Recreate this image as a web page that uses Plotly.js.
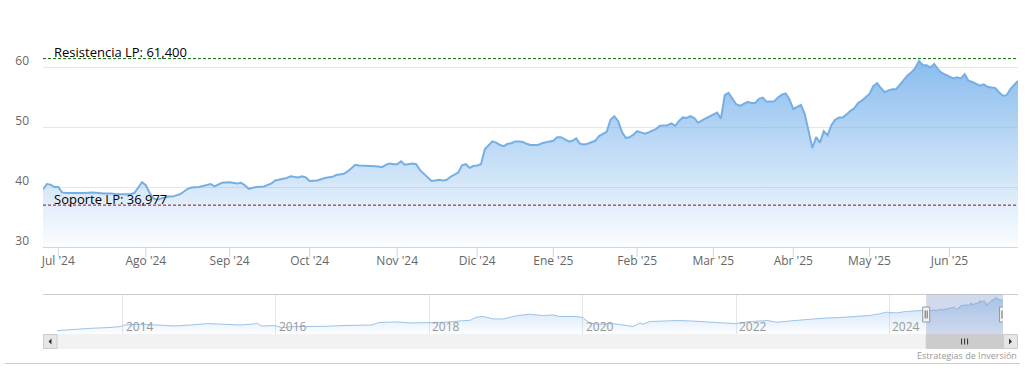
<!DOCTYPE html>
<html><head><meta charset="utf-8">
<script src="https://cdn.plot.ly/plotly-3.0.1.min.js"></script>
<style>html,body{margin:0;padding:0;background:#fff;}#chart{width:1034px;height:369px;}</style>
</head><body><div id="chart"></div>
<script>
// ---- Data ----
const dates = ['2024-06-25','2024-06-26','2024-06-27','2024-06-28','2024-07-01','2024-07-02','2024-07-03','2024-07-05','2024-07-08','2024-07-10','2024-07-12','2024-07-15','2024-07-17','2024-07-19','2024-07-22','2024-07-24','2024-07-26','2024-07-29','2024-07-30','2024-07-31',
'2024-08-01','2024-08-02','2024-08-05','2024-08-06','2024-08-07','2024-08-09','2024-08-12','2024-08-14','2024-08-16','2024-08-19','2024-08-21','2024-08-23','2024-08-26','2024-08-27','2024-08-29',
'2024-09-02','2024-09-04','2024-09-05','2024-09-06','2024-09-09','2024-09-11','2024-09-13','2024-09-16','2024-09-17','2024-09-18','2024-09-20','2024-09-23','2024-09-24','2024-09-26','2024-09-27','2024-09-30',
'2024-10-01','2024-10-03','2024-10-07','2024-10-09','2024-10-10','2024-10-14','2024-10-15','2024-10-16','2024-10-17','2024-10-18','2024-10-21','2024-10-23','2024-10-25','2024-10-28','2024-10-29','2024-10-30','2024-10-31',
'2024-11-01','2024-11-04','2024-11-05','2024-11-07','2024-11-08','2024-11-11','2024-11-12','2024-11-13','2024-11-14','2024-11-15','2024-11-18','2024-11-19','2024-11-20','2024-11-21','2024-11-22','2024-11-25','2024-11-26','2024-11-27','2024-11-28','2024-11-29',
'2024-12-02','2024-12-03','2024-12-04','2024-12-05','2024-12-06','2024-12-09','2024-12-10','2024-12-11','2024-12-12','2024-12-13','2024-12-16','2024-12-17','2024-12-18','2024-12-19','2024-12-20','2024-12-23','2024-12-24','2024-12-27','2024-12-30','2024-12-31',
'2025-01-02','2025-01-03','2025-01-06','2025-01-07','2025-01-08','2025-01-09','2025-01-10','2025-01-13','2025-01-14','2025-01-15','2025-01-16','2025-01-17','2025-01-20','2025-01-21','2025-01-22','2025-01-23','2025-01-24','2025-01-27','2025-01-28','2025-01-29','2025-01-30','2025-01-31',
'2025-02-03','2025-02-04','2025-02-05','2025-02-06','2025-02-07','2025-02-10','2025-02-11','2025-02-12','2025-02-13','2025-02-14','2025-02-17','2025-02-18','2025-02-19','2025-02-20','2025-02-21','2025-02-24','2025-02-25','2025-02-26','2025-02-27','2025-02-28',
'2025-03-03','2025-03-04','2025-03-05','2025-03-06','2025-03-07','2025-03-10','2025-03-11','2025-03-12','2025-03-13','2025-03-14','2025-03-17','2025-03-18','2025-03-19','2025-03-20','2025-03-21','2025-03-24','2025-03-25','2025-03-26','2025-03-27','2025-03-28','2025-03-31',
'2025-04-01','2025-04-02','2025-04-03','2025-04-04','2025-04-07','2025-04-08','2025-04-09','2025-04-10','2025-04-11','2025-04-14','2025-04-15','2025-04-16','2025-04-17','2025-04-22','2025-04-23','2025-04-24','2025-04-25','2025-04-28','2025-04-29','2025-04-30',
'2025-05-02','2025-05-05','2025-05-06','2025-05-07','2025-05-08','2025-05-09','2025-05-12','2025-05-13','2025-05-14','2025-05-15','2025-05-16','2025-05-19','2025-05-20','2025-05-21','2025-05-22','2025-05-23','2025-05-26','2025-05-27','2025-05-28','2025-05-29','2025-05-30',
'2025-06-02','2025-06-03','2025-06-04','2025-06-05','2025-06-06','2025-06-09','2025-06-10','2025-06-11','2025-06-12','2025-06-13','2025-06-16','2025-06-17','2025-06-18','2025-06-19','2025-06-20','2025-06-23','2025-06-24','2025-06-25','2025-06-26'];

const prices = [39.6,40.5,40.4,40.0,40.0,39.1,39.0,39.0,38.9,39.0,39.1,39.0,38.9,38.9,38.8,38.8,38.8,39.0,39.9,40.8,
40.3,39.0,38.1,37.9,38.1,38.4,38.4,38.8,39.7,39.9,40.0,40.3,40.5,40.1,40.7,
40.8,40.6,40.7,40.3,39.7,40.0,40.1,40.3,40.6,41.1,41.3,41.5,41.8,41.6,41.8,41.6,
41.0,41.1,41.5,41.7,42.0,42.2,42.6,43.2,43.7,43.6,43.6,43.5,43.4,43.3,43.7,43.9,43.8,
43.8,44.3,43.7,43.9,43.8,42.8,42.2,41.6,41.0,41.1,41.2,41.1,41.2,41.7,42.1,42.4,43.6,43.8,43.2,43.5,
43.6,43.8,46.3,46.9,47.6,47.4,47.0,46.8,47.2,47.3,47.6,47.6,47.5,47.2,47.0,47.0,47.0,47.3,47.5,47.6,
47.7,48.3,48.3,48.0,47.6,47.7,48.1,47.2,47.1,47.2,47.5,47.7,48.5,48.9,49.2,51.2,51.8,51.0,49.2,48.2,48.3,48.7,
49.3,49.1,48.9,49.1,49.4,49.7,50.2,50.3,50.3,50.6,50.2,51.0,51.6,51.5,51.8,51.5,50.7,51.1,51.4,51.7,
52.0,52.4,51.4,55.3,55.7,54.8,53.8,53.5,53.8,54.2,54.0,54.0,54.7,54.9,54.2,54.3,54.3,54.9,55.4,55.6,54.6,
53.0,53.4,53.7,52.2,49.4,46.5,48.3,47.4,49.3,48.6,50.3,51.2,51.6,51.6,52.1,52.7,53.1,54.0,54.4,54.9,
55.5,56.8,57.3,56.5,55.8,56.1,56.3,56.3,57.1,57.9,58.6,59.1,59.8,61.0,60.3,60.3,59.9,60.5,59.6,59.0,58.7,
58.3,58.1,58.3,58.1,58.8,57.7,57.5,57.2,56.9,57.1,56.7,56.6,56.5,55.8,55.2,55.3,56.3,57.0,57.7];

// Long history shown only in the navigator (before the main window)
const histDates = ['2013-02-22','2013-05-10','2013-08-01','2013-10-18','2013-12-20','2014-01-10','2014-03-28','2014-06-18','2014-09-01','2014-11-20',
'2015-02-10','2015-04-28','2015-07-15','2015-10-07','2015-10-22','2015-12-24','2016-02-01','2016-03-18','2016-06-07','2016-08-22','2016-11-10',
'2017-02-01','2017-04-03','2017-05-05','2017-07-20','2017-10-09','2017-12-28','2018-03-12','2018-05-28','2018-07-16','2018-08-10','2018-09-17','2018-11-02','2018-12-20',
'2019-02-25','2019-04-26','2019-06-24','2019-08-12','2019-09-13','2019-12-02','2020-01-02','2020-02-04','2020-03-20','2020-05-22','2020-07-30','2020-08-28','2020-10-01','2020-10-15','2020-11-17',
'2021-01-05','2021-03-30','2021-05-31','2021-08-18','2021-11-02','2021-12-28','2022-03-10','2022-05-30','2022-07-15','2022-09-16','2022-12-05',
'2023-02-20','2023-05-08','2023-07-27','2023-09-27','2023-11-14','2023-12-18','2024-02-05','2024-03-22','2024-05-08','2024-06-14'];
const histPrices = [5.1,7.3,9.0,10.2,11.9,14.6,15.8,14.6,12.9,14.6,
17.0,15.8,14.6,17.0,12.9,13.6,10.2,11.9,11.9,12.4,13.6,
14.6,14.6,18.7,19.7,18.0,18.0,19.2,21.4,22.6,27.6,28.8,24.8,24.8,
30.5,32.7,30.5,31.5,28.8,28.8,27.1,17.5,15.8,17.0,13.6,11.9,18.0,15.8,20.4,
21.4,22.1,21.4,19.2,18.0,17.0,20.4,22.1,19.2,21.4,24.3,
26.0,27.1,28.8,30.5,33.2,36.1,34.9,37.3,38.3,39.0];

const monthTicks = ['2024-07-01','2024-08-01','2024-09-02','2024-10-01','2024-11-01','2024-12-02','2025-01-02','2025-02-03','2025-03-03','2025-04-01','2025-05-02','2025-06-02'];
const monthLabels = ["Jul '24","Ago '24","Sep '24","Oct '24","Nov '24","Dic '24","Ene '25","Feb '25","Mar '25","Abr '25","May '25","Jun '25"];
const holidays = ['2024-12-25','2024-12-26','2025-01-01','2025-04-18','2025-04-21','2025-05-01'];
const yearTicks = ['2014-01-01','2016-01-01','2018-01-01','2020-01-01','2022-01-01','2024-01-01'];
const yearLabels = ['2014','2016','2018','2020','2022','2024'];
const yTicks = [30,40,50,60,70];
const yTickText = ['30','40','50','60',''];
const resistance = 61.4, support = 36.977;
const resistanceLabel = 'Resistencia LP: 61,400';
const supportLabel = 'Soporte LP: 36,977';
const credit = 'Estrategias de Inversión';

// ---- Layout helpers (pixel -> paper) ----
const W = 1034, H = 369;
const px = v => v / W;
const py = v => 1 - v / H;
const FONT = 'Open Sans, Liberation Sans, sans-serif';

const navX = histDates.concat(dates);
const navY = histPrices.concat(prices);
const nMin = Math.min(...navY), nMax = Math.max(...navY), nSpan = nMax - nMin;
const first = dates[0], last = dates[dates.length - 1];
const mid = new Date((Date.parse(first) + Date.parse(last)) / 2).toISOString().slice(0, 10);

const traces = [
  {
    x: dates, y: prices, type: 'scatter', mode: 'lines',
    line: {color: '#76aee6', width: 2},
    fill: 'tozeroy',
    fillgradient: {type: 'vertical', start: 30, stop: 63,
      colorscale: [[0, 'rgba(124,181,236,0.03)'], [1, 'rgba(124,181,236,0.95)']]},
    hoverinfo: 'skip', xaxis: 'x', yaxis: 'y'
  },
  {
    x: navX, y: navY, type: 'scatter', mode: 'lines',
    line: {color: '#9cc3ea', width: 1},
    fill: 'tozeroy',
    fillgradient: {type: 'vertical', start: nMin - 0.1 * nSpan, stop: nMax,
      colorscale: [[0, 'rgba(124,181,236,0.02)'], [1, 'rgba(124,181,236,0.45)']]},
    hoverinfo: 'skip', xaxis: 'x2', yaxis: 'y2'
  }
];

const shapes = [
  // support / resistance
  {type: 'line', xref: 'paper', yref: 'y', x0: px(43), x1: px(1018), y0: resistance, y1: resistance,
   line: {color: '#0b6b0b', width: 1, dash: '3px,2px'}},
  {type: 'line', xref: 'paper', yref: 'y', x0: px(43), x1: px(1018), y0: support, y1: support,
   line: {color: '#8b1030', width: 1, dash: '3px,2px'}},
  // navigator outline top
  {type: 'line', xref: 'paper', yref: 'paper', x0: px(43), x1: px(1018), y0: py(294.5), y1: py(294.5),
   line: {color: '#cccccc', width: 1}},
  // navigator mask (selected range)
  {type: 'rect', xref: 'x2', yref: 'paper', x0: first, x1: last, y0: py(334), y1: py(294.5),
   fillcolor: 'rgba(102,133,194,0.3)', line: {width: 0}},
  // scrollbar track
  {type: 'rect', xref: 'paper', yref: 'paper', x0: px(43), x1: px(1018), y0: py(349), y1: py(334),
   fillcolor: '#f2f2f2', line: {width: 0}},
  // scrollbar thumb
  {type: 'rect', xref: 'x2', yref: 'paper', x0: first, x1: last, y0: py(348.5), y1: py(334.5),
   fillcolor: '#cccccc', line: {color: '#cccccc', width: 1}},
  // buttons
  {type: 'rect', xref: 'paper', yref: 'paper', x0: px(43.5), x1: px(57), y0: py(348.5), y1: py(334.5),
   fillcolor: '#e6e6e6', line: {color: '#cccccc', width: 1}},
  {type: 'rect', xref: 'paper', yref: 'paper', x0: px(1003.5), x1: px(1017.5), y0: py(348.5), y1: py(334.5),
   fillcolor: '#e6e6e6', line: {color: '#cccccc', width: 1}},
  {type: 'path', xref: 'paper', yref: 'paper',
   path: `M ${px(48.5)} ${py(341.5)} L ${px(51.5)} ${py(338.5)} L ${px(51.5)} ${py(344.5)} Z`,
   fillcolor: '#333333', line: {width: 0}},
  {type: 'path', xref: 'paper', yref: 'paper',
   path: `M ${px(1012)} ${py(341.5)} L ${px(1009)} ${py(338.5)} L ${px(1009)} ${py(344.5)} Z`,
   fillcolor: '#333333', line: {width: 0}},
  // thumb grip
  {type: 'path', xref: 'x2', xsizemode: 'pixel', xanchor: mid, yref: 'paper',
   path: `M -3 ${py(338.5)} L -3 ${py(344.5)} M 0 ${py(338.5)} L 0 ${py(344.5)} M 3 ${py(338.5)} L 3 ${py(344.5)}`,
   line: {color: '#333333', width: 1}},
  // handles
  {type: 'rect', xref: 'x2', xsizemode: 'pixel', xanchor: first, x0: -3.5, x1: 3.5, yref: 'paper', y0: py(322), y1: py(307),
   fillcolor: '#f2f2f2', line: {color: '#999999', width: 1}},
  {type: 'rect', xref: 'x2', xsizemode: 'pixel', xanchor: last, x0: -3.5, x1: 3.5, yref: 'paper', y0: py(322), y1: py(307),
   fillcolor: '#f2f2f2', line: {color: '#999999', width: 1}},
  {type: 'path', xref: 'x2', xsizemode: 'pixel', xanchor: first, yref: 'paper',
   path: `M -1 ${py(310.5)} L -1 ${py(318.5)} M 1 ${py(310.5)} L 1 ${py(318.5)}`,
   line: {color: '#666666', width: 1}},
  {type: 'path', xref: 'x2', xsizemode: 'pixel', xanchor: last, yref: 'paper',
   path: `M -1 ${py(310.5)} L -1 ${py(318.5)} M 1 ${py(310.5)} L 1 ${py(318.5)}`,
   line: {color: '#666666', width: 1}},
  // bottom border
  {type: 'line', xref: 'paper', yref: 'paper', x0: px(5), x1: px(1020), y0: py(363.5), y1: py(363.5),
   line: {color: '#cccccc', width: 1}}
];
// month tick marks (10px, below the axis line)
monthTicks.forEach(d => shapes.push({type: 'line', xref: 'x', yref: 'paper', x0: d, x1: d,
  y0: py(247), y1: py(257), line: {color: '#ccd6eb', width: 1}}));

const annotations = [
  {xref: 'paper', yref: 'y', x: px(52), y: resistance, xanchor: 'left', yanchor: 'bottom',
   text: resistanceLabel, showarrow: false, font: {family: FONT, size: 13, color: '#000000'}, yshift: -4},
  {xref: 'paper', yref: 'y', x: px(52), y: support, xanchor: 'left', yanchor: 'bottom',
   text: supportLabel, showarrow: false, font: {family: FONT, size: 13, color: '#000000'}, yshift: -5},
  {xref: 'paper', yref: 'paper', x: px(1019), y: py(355), xanchor: 'right', yanchor: 'middle',
   text: credit, showarrow: false, font: {family: FONT, size: 9, color: '#999999'}}
];
// navigator year labels, just right of their grid lines
yearTicks.forEach((d, i) => annotations.push({xref: 'x2', yref: 'paper', x: d, y: py(326),
  xanchor: 'left', yanchor: 'middle', xshift: 1, text: yearLabels[i], showarrow: false,
  font: {family: FONT, size: 12, color: '#999999'}}));

const layout = {
  width: W, height: H,
  margin: {l: 0, r: 0, t: 0, b: 0},
  paper_bgcolor: '#ffffff', plot_bgcolor: 'rgba(0,0,0,0)',
  showlegend: false,
  font: {family: FONT, size: 12, color: '#666666'},
  xaxis: {
    domain: [px(43), px(1018)], anchor: 'y', type: 'date',
    range: [first, last],
    rangebreaks: [{bounds: ['sat', 'mon']}, {values: holidays}],
    tickmode: 'array', tickvals: monthTicks, ticktext: monthLabels,
    ticks: 'outside', ticklen: 3, tickcolor: 'rgba(0,0,0,0)', tickwidth: 1,
    showline: true, linecolor: '#ccd6eb', linewidth: 1,
    showgrid: false, zeroline: false,
    tickfont: {family: FONT, size: 12, color: '#666666'}
  },
  yaxis: {
    domain: [py(247), py(7)], anchor: 'x', range: [30, 70],
    tickmode: 'array', tickvals: yTicks, ticktext: yTickText,
    showgrid: true, gridcolor: '#e6e6e6', gridwidth: 1,
    zeroline: false, showline: false, ticks: '',
    ticklabelshift: -6, ticklabelstandoff: 13,
    tickfont: {family: FONT, size: 12, color: '#666666'}
  },
  xaxis2: {
    domain: [px(57), px(1003)], anchor: 'y2', type: 'date',
    range: [histDates[0], last],
    tickmode: 'array', tickvals: yearTicks,
    showgrid: true, gridcolor: '#e6e6e6', gridwidth: 1,
    zeroline: false, showline: false, ticks: '', showticklabels: false
  },
  yaxis2: {
    domain: [py(334), py(294)], anchor: 'x2',
    range: [nMin - 0.1 * nSpan, nMax + 0.1 * nSpan],
    visible: false, showgrid: false, zeroline: false
  },
  shapes: shapes,
  annotations: annotations
};

Plotly.newPlot('chart', traces, layout, {staticPlot: true, displayModeBar: false});
</script>
</body></html>
